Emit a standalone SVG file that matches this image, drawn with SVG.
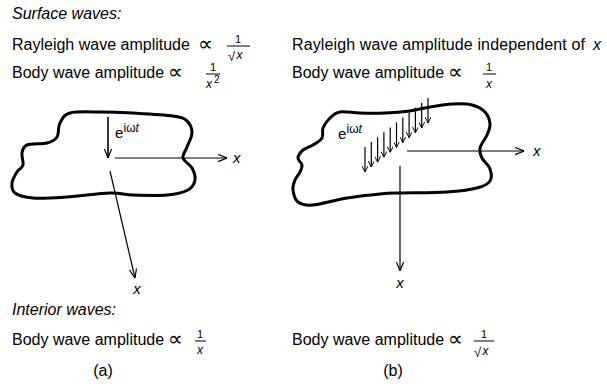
<svg xmlns="http://www.w3.org/2000/svg" width="607" height="386" viewBox="0 0 607 386">
<defs>
<style>
.t{font-family:"Liberation Sans","DejaVu Sans",sans-serif;font-size:16px;fill:#000}
.it{font-style:italic}
.sm{font-size:11px}
.sup{font-size:12px}
.pr{font-family:"DejaVu Sans",sans-serif;font-size:21px}
.blob{fill:none;stroke:#000;stroke-width:3;stroke-linejoin:round}
.ln{fill:none;stroke:#000;stroke-width:1.2}
.bar{stroke:#000;stroke-width:1}
</style>
<marker id="ah" viewBox="0 0 10 10" refX="10" refY="5" markerWidth="9" markerHeight="9" markerUnits="userSpaceOnUse" orient="auto">
<path d="M0,1 L10,5 L0,9" fill="none" stroke="#000" stroke-width="1.3"/>
</marker>
<marker id="ahs" viewBox="0 0 10 10" refX="10" refY="5" markerWidth="6" markerHeight="6" markerUnits="userSpaceOnUse" orient="auto">
<path d="M0,0 L10,5 L0,10" fill="none" stroke="#000" stroke-width="1.6"/>
</marker>
</defs>
<rect width="607" height="386" fill="#fff"/>

<g id="surface-heading"><text class="t it" x="12" y="19">Surface waves:</text></g>

<g id="left-rayleigh">
<text class="t" x="12" y="50">Rayleigh wave amplitude</text>
<text class="t pr" x="198" y="51">∝</text>
<text class="t sm" x="238" y="43" text-anchor="middle">1</text>
<line class="bar" x1="227" y1="46" x2="250" y2="46"/>
<text class="t" x="228" y="61" style="font-size:13px">√</text>
<text class="t it" x="236.5" y="59" style="font-size:12px">x</text>
</g>

<g id="left-body-surface">
<text class="t" x="12" y="78">Body wave amplitude</text>
<text class="t pr" x="168" y="79">∝</text>
<text class="t sm" x="213" y="71" text-anchor="middle">1</text>
<line class="bar" x1="206" y1="74" x2="220" y2="74"/>
<text class="t it" x="206" y="88" style="font-size:12px">x</text>
<text class="t" x="214" y="83" style="font-size:10px">2</text>
</g>

<g id="right-rayleigh">
<text class="t" x="292" y="50" textLength="293" lengthAdjust="spacing">Rayleigh wave amplitude independent of</text>
<text class="t it" x="593" y="50">x</text>
</g>

<g id="right-body-surface">
<text class="t" x="292" y="78">Body wave amplitude</text>
<text class="t pr" x="448" y="79">∝</text>
<text class="t sm" x="489" y="71" text-anchor="middle">1</text>
<line class="bar" x1="483" y1="74" x2="496" y2="74"/>
<text class="t it" x="489" y="88" text-anchor="middle" style="font-size:12px">x</text>
</g>

<g id="blob-a">
<path class="blob" d="M60,123 C62.2,119 63.3,114.8 70,113 C76.7,111.2 89.5,112 100,112 C110.5,112 120.8,112.3 133,113 C145.2,113.7 164,114.7 173,116 C182,117.3 183.8,118.2 187,121 C190.2,123.8 192,128.7 192,133 C192,137.3 188.5,142.8 187,147 C185.5,151.2 182.2,154.5 183,158 C183.8,161.5 190,164.3 192,168 C194,171.7 195.7,176.3 195,180 C194.3,183.7 192.7,187.5 188,190 C183.3,192.5 176.2,194.2 167,195 C157.8,195.8 142.5,195.3 133,195 C123.5,194.7 121,192.7 110,193 C99,193.3 79.8,196.2 67,197 C54.2,197.8 41.7,198.7 33,198 C24.3,197.3 18.5,195.5 15,193 C11.5,190.5 11.7,186.5 12,183 C12.3,179.5 15.2,175 17,172 C18.8,169 22.2,168.2 23,165 C23.8,161.8 21.3,156.3 22,153 C22.7,149.7 22.8,146.7 27,145 C31.2,143.3 42,144.3 47,143 C52,141.7 54.8,140.3 57,137 C59.2,133.7 57.8,126.3 60,123 Z"/>
<text class="t" x="115" y="138" style="font-size:15px">e</text>
<text class="t sup" x="123.5" y="132">iω<tspan class="it">t</tspan></text>
</g>

<g id="blob-b">
<path class="blob" d="M330,118 C332.8,115.3 335,112.8 340,112 C345,111.2 352.5,112.8 360,113 C367.5,113.2 376.7,113.3 385,113 C393.3,112.7 402.5,112 410,111 C417.5,110 422.8,108.2 430,107 C437.2,105.8 446,104.3 453,104 C460,103.7 466.7,103.7 472,105 C477.3,106.3 482,108.8 485,112 C488,115.2 489.7,120.2 490,124 C490.3,127.8 488.7,131 487,135 C485.3,139 480.8,144.2 480,148 C479.2,151.8 480.3,154.5 482,158 C483.7,161.5 488.7,165.2 490,169 C491.3,172.8 492.2,177.8 490,181 C487.8,184.2 484.2,186.2 477,188 C469.8,189.8 459.8,191.2 447,192 C434.2,192.8 411.2,192.7 400,193 C388.8,193.3 388.8,193.2 380,194 C371.2,194.8 358.2,196.2 347,198 C335.8,199.8 321.2,204.3 313,205 C304.8,205.7 301.3,204.5 298,202 C294.7,199.5 293.5,193.7 293,190 C292.5,186.3 293.8,183 295,180 C296.2,177 298.8,174.5 300,172 C301.2,169.5 302.3,167.3 302,165 C301.7,162.7 297.8,160.5 298,158 C298.2,155.5 300.5,152.2 303,150 C305.5,147.8 309.8,147 313,145 C316.2,143 320.3,140.8 322,138 C323.7,135.2 321.7,131.3 323,128 C324.3,124.7 327.2,120.7 330,118 Z"/>
<text class="t" x="338" y="139" style="font-size:15px">e</text>
<text class="t sup" x="346.5" y="133">iω<tspan class="it">t</tspan></text>
</g>

<g id="connectors">
<line class="ln" x1="108" y1="117" x2="108" y2="158" marker-end="url(#ah)" style="stroke-width:1.6"/>
<line class="ln" x1="115" y1="158" x2="227" y2="158" marker-end="url(#ah)"/>
<line class="ln" x1="110" y1="171" x2="135" y2="278" marker-end="url(#ah)"/>
<line class="ln" x1="407" y1="151" x2="524" y2="151" marker-end="url(#ah)"/>
<line class="ln" x1="400" y1="166" x2="400" y2="271" marker-end="url(#ah)"/>
<g id="forcing-arrows-b" class="ln">
<line x1="365" y1="147" x2="365" y2="172" marker-end="url(#ahs)"/>
<line x1="371.3" y1="142.1" x2="371.3" y2="167.1" marker-end="url(#ahs)"/>
<line x1="377.6" y1="137.2" x2="377.6" y2="162.2" marker-end="url(#ahs)"/>
<line x1="383.9" y1="132.3" x2="383.9" y2="157.3" marker-end="url(#ahs)"/>
<line x1="390.2" y1="127.4" x2="390.2" y2="152.4" marker-end="url(#ahs)"/>
<line x1="396.5" y1="122.5" x2="396.5" y2="147.5" marker-end="url(#ahs)"/>
<line x1="402.8" y1="117.6" x2="402.8" y2="142.6" marker-end="url(#ahs)"/>
<line x1="409.1" y1="112.7" x2="409.1" y2="137.7" marker-end="url(#ahs)"/>
<line x1="415.4" y1="107.8" x2="415.4" y2="132.8" marker-end="url(#ahs)"/>
<line x1="421.7" y1="102.9" x2="421.7" y2="127.9" marker-end="url(#ahs)"/>
<line x1="428" y1="98" x2="428" y2="123" marker-end="url(#ahs)"/>
</g>
</g>

<g id="axis-labels">
<text class="t it" x="233" y="163" style="font-size:15px">x</text>
<text class="t it" x="137" y="294" text-anchor="middle" style="font-size:15px">x</text>
<text class="t it" x="533" y="156" style="font-size:15px">x</text>
<text class="t it" x="400" y="288" text-anchor="middle" style="font-size:15px">x</text>
</g>

<g id="interior-heading"><text class="t it" x="12" y="315">Interior waves:</text></g>

<g id="left-body-interior">
<text class="t" x="12" y="345">Body wave amplitude</text>
<text class="t pr" x="168" y="346">∝</text>
<text class="t sm" x="200" y="338" text-anchor="middle">1</text>
<line class="bar" x1="195" y1="341" x2="206" y2="341"/>
<text class="t it" x="200" y="354" text-anchor="middle" style="font-size:12px">x</text>
</g>

<g id="right-body-interior">
<text class="t" x="292" y="345">Body wave amplitude</text>
<text class="t pr" x="448" y="346">∝</text>
<text class="t sm" x="484" y="338" text-anchor="middle">1</text>
<line class="bar" x1="474" y1="341" x2="494" y2="341"/>
<text class="t" x="474" y="357" style="font-size:13px">√</text>
<text class="t it" x="482.5" y="355" style="font-size:12px">x</text>
</g>

<g id="caption-a"><text class="t" x="103" y="376" text-anchor="middle">(a)</text></g>
<g id="caption-b"><text class="t" x="393" y="376" text-anchor="middle">(b)</text></g>
</svg>
